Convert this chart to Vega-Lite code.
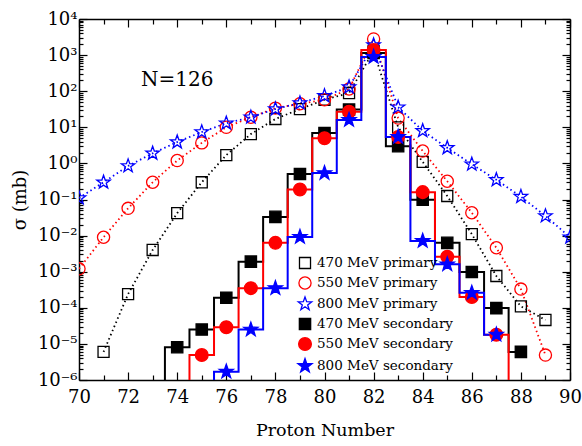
{
  "$schema": "https://vega.github.io/schema/vega-lite/v6.json",
  "width": 491,
  "height": 361,
  "autosize": "none",
  "padding": {"left": 79, "top": 19, "right": 12, "bottom": 66},
  "background": "white",
  "config": {
    "view": {"stroke": null},
    "axis": {"labelFont": "DejaVu Serif", "titleFont": "DejaVu Serif", "labelColor": "black", "titleColor": "black", "domainColor": "black", "tickColor": "black", "grid": false, "titleFontWeight": "normal", "domainWidth": 1.5, "tickWidth": 1.2},
    "legend": {"labelFont": "DejaVu Serif"}
  },
  "data": {
    "values": [
      {"Z": 71, "sigma": 6e-6, "series": "470 MeV primary"},
      {"Z": 72, "sigma": 2.4e-4, "series": "470 MeV primary"},
      {"Z": 73, "sigma": 4e-3, "series": "470 MeV primary"},
      {"Z": 74, "sigma": 0.042, "series": "470 MeV primary"},
      {"Z": 75, "sigma": 0.30, "series": "470 MeV primary"},
      {"Z": 76, "sigma": 1.7, "series": "470 MeV primary"},
      {"Z": 77, "sigma": 6.5, "series": "470 MeV primary"},
      {"Z": 78, "sigma": 17, "series": "470 MeV primary"},
      {"Z": 79, "sigma": 32, "series": "470 MeV primary"},
      {"Z": 80, "sigma": 58, "series": "470 MeV primary"},
      {"Z": 81, "sigma": 89, "series": "470 MeV primary"},
      {"Z": 82, "sigma": 1300, "series": "470 MeV primary"},
      {"Z": 83, "sigma": 10, "series": "470 MeV primary"},
      {"Z": 84, "sigma": 1.1, "series": "470 MeV primary"},
      {"Z": 85, "sigma": 0.125, "series": "470 MeV primary"},
      {"Z": 86, "sigma": 0.011, "series": "470 MeV primary"},
      {"Z": 87, "sigma": 7.6e-4, "series": "470 MeV primary"},
      {"Z": 88, "sigma": 1.1e-4, "series": "470 MeV primary"},
      {"Z": 89, "sigma": 4.6e-5, "series": "470 MeV primary"},

      {"Z": 70, "sigma": 1.2e-3, "series": "550 MeV primary"},
      {"Z": 71, "sigma": 9e-3, "series": "550 MeV primary"},
      {"Z": 72, "sigma": 0.057, "series": "550 MeV primary"},
      {"Z": 73, "sigma": 0.30, "series": "550 MeV primary"},
      {"Z": 74, "sigma": 1.2, "series": "550 MeV primary"},
      {"Z": 75, "sigma": 3.7, "series": "550 MeV primary"},
      {"Z": 76, "sigma": 10, "series": "550 MeV primary"},
      {"Z": 77, "sigma": 19, "series": "550 MeV primary"},
      {"Z": 78, "sigma": 34, "series": "550 MeV primary"},
      {"Z": 79, "sigma": 45, "series": "550 MeV primary"},
      {"Z": 80, "sigma": 58, "series": "550 MeV primary"},
      {"Z": 81, "sigma": 115, "series": "550 MeV primary"},
      {"Z": 82, "sigma": 2800, "series": "550 MeV primary"},
      {"Z": 83, "sigma": 18, "series": "550 MeV primary"},
      {"Z": 84, "sigma": 2.2, "series": "550 MeV primary"},
      {"Z": 85, "sigma": 0.32, "series": "550 MeV primary"},
      {"Z": 86, "sigma": 0.043, "series": "550 MeV primary"},
      {"Z": 87, "sigma": 4.6e-3, "series": "550 MeV primary"},
      {"Z": 88, "sigma": 3.3e-4, "series": "550 MeV primary"},
      {"Z": 89, "sigma": 4.9e-6, "series": "550 MeV primary"},

      {"Z": 70, "sigma": 0.11, "series": "800 MeV primary"},
      {"Z": 71, "sigma": 0.30, "series": "800 MeV primary"},
      {"Z": 72, "sigma": 0.85, "series": "800 MeV primary"},
      {"Z": 73, "sigma": 1.9, "series": "800 MeV primary"},
      {"Z": 74, "sigma": 3.9, "series": "800 MeV primary"},
      {"Z": 75, "sigma": 7.4, "series": "800 MeV primary"},
      {"Z": 76, "sigma": 13, "series": "800 MeV primary"},
      {"Z": 77, "sigma": 19, "series": "800 MeV primary"},
      {"Z": 78, "sigma": 32, "series": "800 MeV primary"},
      {"Z": 79, "sigma": 47, "series": "800 MeV primary"},
      {"Z": 80, "sigma": 74, "series": "800 MeV primary"},
      {"Z": 81, "sigma": 130, "series": "800 MeV primary"},
      {"Z": 82, "sigma": 1900, "series": "800 MeV primary"},
      {"Z": 83, "sigma": 36, "series": "800 MeV primary"},
      {"Z": 84, "sigma": 8, "series": "800 MeV primary"},
      {"Z": 85, "sigma": 2.7, "series": "800 MeV primary"},
      {"Z": 86, "sigma": 0.95, "series": "800 MeV primary"},
      {"Z": 87, "sigma": 0.35, "series": "800 MeV primary"},
      {"Z": 88, "sigma": 0.12, "series": "800 MeV primary"},
      {"Z": 89, "sigma": 0.035, "series": "800 MeV primary"},
      {"Z": 90, "sigma": 0.009, "series": "800 MeV primary"},

      {"Z": 73, "sigma": 1e-9, "series": "470 MeV secondary"},
      {"Z": 74, "sigma": 8.1e-6, "series": "470 MeV secondary"},
      {"Z": 75, "sigma": 2.5e-5, "series": "470 MeV secondary"},
      {"Z": 76, "sigma": 1.9e-4, "series": "470 MeV secondary"},
      {"Z": 77, "sigma": 1.9e-3, "series": "470 MeV secondary"},
      {"Z": 78, "sigma": 0.033, "series": "470 MeV secondary"},
      {"Z": 79, "sigma": 0.51, "series": "470 MeV secondary"},
      {"Z": 80, "sigma": 6.9, "series": "470 MeV secondary"},
      {"Z": 81, "sigma": 31, "series": "470 MeV secondary"},
      {"Z": 82, "sigma": 1150, "series": "470 MeV secondary"},
      {"Z": 83, "sigma": 3.0, "series": "470 MeV secondary"},
      {"Z": 84, "sigma": 0.098, "series": "470 MeV secondary"},
      {"Z": 85, "sigma": 6.3e-3, "series": "470 MeV secondary"},
      {"Z": 86, "sigma": 9.8e-4, "series": "470 MeV secondary"},
      {"Z": 87, "sigma": 9.8e-5, "series": "470 MeV secondary"},
      {"Z": 88, "sigma": 6e-6, "series": "470 MeV secondary"},

      {"Z": 74, "sigma": 1e-9, "series": "550 MeV secondary"},
      {"Z": 75, "sigma": 4.9e-6, "series": "550 MeV secondary"},
      {"Z": 76, "sigma": 2.9e-5, "series": "550 MeV secondary"},
      {"Z": 77, "sigma": 3.5e-4, "series": "550 MeV secondary"},
      {"Z": 78, "sigma": 6.3e-3, "series": "550 MeV secondary"},
      {"Z": 79, "sigma": 0.19, "series": "550 MeV secondary"},
      {"Z": 80, "sigma": 5.0, "series": "550 MeV secondary"},
      {"Z": 81, "sigma": 27, "series": "550 MeV secondary"},
      {"Z": 82, "sigma": 1380, "series": "550 MeV secondary"},
      {"Z": 83, "sigma": 5.4, "series": "550 MeV secondary"},
      {"Z": 84, "sigma": 0.16, "series": "550 MeV secondary"},
      {"Z": 85, "sigma": 2.6e-3, "series": "550 MeV secondary"},
      {"Z": 86, "sigma": 2.0e-4, "series": "550 MeV secondary"},
      {"Z": 87, "sigma": 1.8e-5, "series": "550 MeV secondary"},
      {"Z": 88, "sigma": 1e-9, "series": "550 MeV secondary"},

      {"Z": 75, "sigma": 1e-9, "series": "800 MeV secondary"},
      {"Z": 76, "sigma": 1.7e-6, "series": "800 MeV secondary"},
      {"Z": 77, "sigma": 2.5e-5, "series": "800 MeV secondary"},
      {"Z": 78, "sigma": 3.5e-4, "series": "800 MeV secondary"},
      {"Z": 79, "sigma": 9.2e-3, "series": "800 MeV secondary"},
      {"Z": 80, "sigma": 0.54, "series": "800 MeV secondary"},
      {"Z": 81, "sigma": 16, "series": "800 MeV secondary"},
      {"Z": 82, "sigma": 890, "series": "800 MeV secondary"},
      {"Z": 83, "sigma": 5.4, "series": "800 MeV secondary"},
      {"Z": 84, "sigma": 7.1e-3, "series": "800 MeV secondary"},
      {"Z": 85, "sigma": 1.6e-3, "series": "800 MeV secondary"},
      {"Z": 86, "sigma": 2.6e-4, "series": "800 MeV secondary"},
      {"Z": 87, "sigma": 1.8e-5, "series": "800 MeV secondary"}
    ]
  },
  "resolve": {"axis": {"x": "independent", "y": "independent"}},
  "layer": [
    {
      "transform": [{"filter": "indexof(datum.series, 'primary') >= 0"}],
      "mark": {"type": "line", "strokeDash": [1.5, 3], "strokeWidth": 1.8, "clip": true},
      "encoding": {
        "x": {"field": "Z", "type": "quantitative", "scale": {"domain": [70, 90], "nice": false, "zero": false},
          "axis": {"orient": "bottom", "values": [70, 72, 74, 76, 78, 80, 82, 84, 86, 88, 90], "tickSize": -8, "labelPadding": 16, "labelFontSize": 18, "title": "Proton Number", "titleFontSize": 17.5, "titlePadding": 15, "labelFlush": false}},
        "y": {"field": "sigma", "type": "quantitative", "scale": {"type": "log", "domain": [1e-6, 1e4], "nice": false},
          "axis": {"orient": "left", "values": [1e-6, 1e-5, 1e-4, 1e-3, 1e-2, 1e-1, 1, 10, 100, 1000, 10000], "tickSize": -8, "labelPadding": 10, "labelFontSize": 18, "labelExpr": "'10' + (datum.value < 0.5 ? '⁻' : '') + ['⁰','¹','²','³','⁴','⁵','⁶','⁷','⁸','⁹'][abs(round(log(datum.value)/LN10))]", "title": "σ (mb)", "titleFontSize": 18, "titlePadding": 8, "labelFlush": false}},
        "stroke": {"field": "series", "type": "nominal"},
        "detail": {"field": "series"}
      }
    },
    {
      "transform": [{"filter": "indexof(datum.series, 'secondary') >= 0"}],
      "mark": {"type": "line", "interpolate": "step", "strokeWidth": 2, "clip": true},
      "encoding": {
        "x": {"field": "Z", "type": "quantitative",
          "axis": {"orient": "bottom", "values": [71, 73, 75, 77, 79, 81, 83, 85, 87, 89], "tickSize": -5, "labels": false, "domain": false, "title": null}},
        "y": {"field": "sigma", "type": "quantitative",
          "axis": {"orient": "left", "values": [2e-6,3e-6,4e-6,5e-6,6e-6,7e-6,8e-6,9e-6,2e-5,3e-5,4e-5,5e-5,6e-5,7e-5,8e-5,9e-5,2e-4,3e-4,4e-4,5e-4,6e-4,7e-4,8e-4,9e-4,2e-3,3e-3,4e-3,5e-3,6e-3,7e-3,8e-3,9e-3,0.02,0.03,0.04,0.05,0.06,0.07,0.08,0.09,0.2,0.3,0.4,0.5,0.6,0.7,0.8,0.9,2,3,4,5,6,7,8,9,20,30,40,50,60,70,80,90,200,300,400,500,600,700,800,900,2000,3000,4000,5000,6000,7000,8000,9000], "tickSize": -4, "labels": false, "domain": false, "title": null}},
        "stroke": {"field": "series", "type": "nominal"},
        "detail": {"field": "series"}
      }
    },
    {
      "transform": [{"filter": "datum.sigma > 1e-7"}],
      "mark": {"type": "point", "strokeWidth": 1.3, "opacity": 1, "clip": true},
      "encoding": {
        "x": {"field": "Z", "type": "quantitative",
          "axis": {"orient": "top", "values": [70, 72, 74, 76, 78, 80, 82, 84, 86, 88, 90], "tickSize": -8, "labels": false, "title": null}},
        "y": {"field": "sigma", "type": "quantitative",
          "axis": {"orient": "right", "values": [1e-6, 1e-5, 1e-4, 1e-3, 1e-2, 1e-1, 1, 10, 100, 1000, 10000], "tickSize": -8, "labels": false, "title": null}},
        "stroke": {"field": "series", "type": "nominal", "title": null,
          "scale": {"domain": ["470 MeV primary", "550 MeV primary", "800 MeV primary", "470 MeV secondary", "550 MeV secondary", "800 MeV secondary"], "range": ["#000000", "#ff0000", "#0000ff", "#000000", "#ff0000", "#0000ff"]},
          "legend": {"orient": "none", "legendX": 218, "legendY": 236, "labelFontSize": 13.5, "labelColor": "black", "rowPadding": 2, "symbolStrokeWidth": 1.3, "labelOffset": 4, "padding": 0, "symbolSize": 200}},
        "fill": {"field": "series", "type": "nominal", "title": null,
          "scale": {"domain": ["470 MeV primary", "550 MeV primary", "800 MeV primary", "470 MeV secondary", "550 MeV secondary", "800 MeV secondary"], "range": ["transparent", "transparent", "transparent", "#000000", "#ff0000", "#0000ff"]}},
        "shape": {"field": "series", "type": "nominal", "title": null,
          "scale": {"domain": ["470 MeV primary", "550 MeV primary", "800 MeV primary", "470 MeV secondary", "550 MeV secondary", "800 MeV secondary"], "range": ["M-0.78,-0.78H0.78V0.78H-0.78Z", "M-0.86,0A0.86,0.86 0 1,0 0.86,0A0.86,0.86 0 1,0 -0.86,0Z", "M0,-1L0.235,-0.324L0.951,-0.309L0.38,0.124L0.588,0.809L0,0.4L-0.588,0.809L-0.38,0.124L-0.951,-0.309L-0.235,-0.324Z", "M-0.8,-0.8H0.8V0.8H-0.8Z", "M-0.9,0A0.9,0.9 0 1,0 0.9,0A0.9,0.9 0 1,0 -0.9,0Z", "M0,-1.05L0.247,-0.34L1,-0.324L0.4,0.13L0.617,0.85L0,0.42L-0.617,0.85L-0.4,0.13L-1,-0.324L-0.247,-0.34Z"]}},
        "size": {"value": 200}
      }
    },
    {
      "data": {"values": [{"Z": 74, "sigma": 200, "label": "N=126"}]},
      "mark": {"type": "text", "fontSize": 20, "font": "DejaVu Serif", "color": "black", "align": "center", "baseline": "middle"},
      "encoding": {
        "x": {"field": "Z", "type": "quantitative",
          "axis": {"orient": "top", "values": [71, 73, 75, 77, 79, 81, 83, 85, 87, 89], "tickSize": -5, "labels": false, "domain": false, "title": null}},
        "y": {"field": "sigma", "type": "quantitative",
          "axis": {"orient": "right", "values": [2e-6,3e-6,4e-6,5e-6,6e-6,7e-6,8e-6,9e-6,2e-5,3e-5,4e-5,5e-5,6e-5,7e-5,8e-5,9e-5,2e-4,3e-4,4e-4,5e-4,6e-4,7e-4,8e-4,9e-4,2e-3,3e-3,4e-3,5e-3,6e-3,7e-3,8e-3,9e-3,0.02,0.03,0.04,0.05,0.06,0.07,0.08,0.09,0.2,0.3,0.4,0.5,0.6,0.7,0.8,0.9,2,3,4,5,6,7,8,9,20,30,40,50,60,70,80,90,200,300,400,500,600,700,800,900,2000,3000,4000,5000,6000,7000,8000,9000], "tickSize": -4, "labels": false, "domain": false, "title": null}},
        "text": {"field": "label"}
      }
    }
  ]
}
